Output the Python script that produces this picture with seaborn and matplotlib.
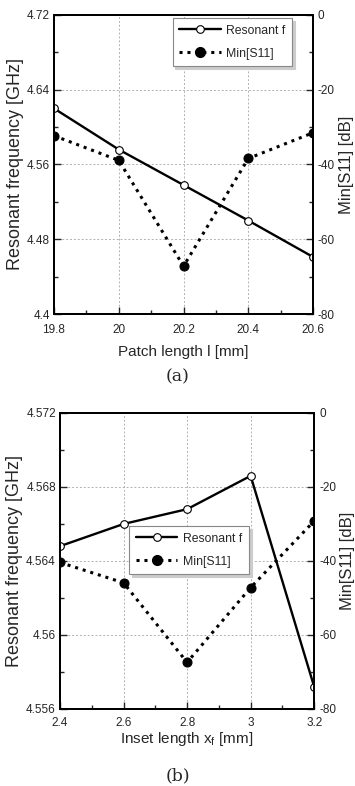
import matplotlib
matplotlib.use("Agg")
import matplotlib.pyplot as plt
from matplotlib.ticker import MultipleLocator, FuncFormatter
from matplotlib.lines import Line2D
import seaborn as sns
import pandas as pd

# ---- data ----
patch_length = [19.8, 20.0, 20.2, 20.4, 20.6]
patch_freq = [4.620, 4.576, 4.538, 4.500, 4.461]
patch_s11 = [-32.3, -38.9, -67.2, -38.4, -31.5]

inset_length = [2.4, 2.6, 2.8, 3.0, 3.2]
inset_freq = [4.5648, 4.5660, 4.5668, 4.5686, 4.5572]
inset_s11 = [-40.4, -45.9, -67.4, -47.2, -29.2]

label_f = "Resonant f"
label_s = "Min[S11]"

sns.set_style("ticks")
plt.rcParams['font.family'] = ['Liberation Sans', 'DejaVu Sans']
plt.rcParams['mathtext.fontset'] = 'custom'
plt.rcParams['mathtext.rm'] = 'Liberation Sans'

fig = plt.figure(figsize=(3.55, 7.86), dpi=100)


def gfmt(v, pos):
    return '%g' % round(v, 6)


def make_panel(rect, xs, fs, ss, xlim, xmaj, ylim, ymaj, xlabel, letter, letter_y,
               xlabel_y, leg_loc, xpad):
    ax = fig.add_axes(rect)
    ax2 = ax.twinx()
    df = pd.DataFrame({"x": xs, "f": fs, "s": ss})
    sns.lineplot(data=df, x="x", y="f", ax=ax, color="black", lw=1.7,
                 marker="o", markersize=5.5, markerfacecolor="white",
                 markeredgecolor="black", markeredgewidth=0.8, legend=False)
    sns.lineplot(data=df, x="x", y="s", ax=ax2, color="black", lw=2.2,
                 linestyle=(0, (1, 1.6)), marker="o", markersize=6.5,
                 markerfacecolor="black", markeredgecolor="black", legend=False)
    ax.set_xlim(*xlim)
    ax.set_ylim(*ylim)
    ax2.set_ylim(-80, 0)
    ax.xaxis.set_major_locator(MultipleLocator(xmaj))
    ax.xaxis.set_minor_locator(MultipleLocator(xmaj / 2))
    ax.yaxis.set_major_locator(MultipleLocator(ymaj))
    ax.yaxis.set_minor_locator(MultipleLocator(ymaj / 2))
    ax2.yaxis.set_major_locator(MultipleLocator(20))
    ax2.yaxis.set_minor_locator(MultipleLocator(10))
    ax.xaxis.set_major_formatter(FuncFormatter(gfmt))
    ax.yaxis.set_major_formatter(FuncFormatter(gfmt))
    ax2.yaxis.set_major_formatter(FuncFormatter(gfmt))
    for a in (ax, ax2):
        a.tick_params(which="both", direction="in", labelsize=8.5, pad=3)
        a.tick_params(which="major", length=5, width=1)
        a.tick_params(which="minor", length=3, width=1)
        for sp in a.spines.values():
            sp.set_linewidth(1.4)
            sp.set_visible(True)
            sp.set_color("black")
    ax.tick_params(axis="x", pad=xpad)
    ax.tick_params(axis="x", top=False, which="both")
    ax2.tick_params(axis="y", pad=3.5)
    ax.grid(True, which="major", color="#b0b0b0", linestyle=(0, (2, 2)), lw=0.7)
    ax.set_axisbelow(True)
    ax.set_xlabel("")
    ax.set_ylabel("Resonant frequency [GHz]", fontsize=13, labelpad=2)
    ax2.set_ylabel("Min[S11] [dB]", fontsize=12, labelpad=3)
    fig.text(rect[0] + rect[2] / 2, xlabel_y, xlabel, ha="center", va="center", fontsize=11)
    fig.text(0.5, letter_y, letter, ha="center", va="center", fontsize=12.5,
             family=["DejaVu Serif"])
    h1 = Line2D([], [], color="black", lw=1.7, marker="o", markersize=5.5,
                markerfacecolor="white", markeredgecolor="black", markeredgewidth=0.8)
    h2 = Line2D([], [], color="black", lw=2.2, linestyle=(0, (1, 1.6)), marker="o",
                markersize=7, markerfacecolor="black")
    leg = ax2.legend([h1, h2], [label_f, label_s], loc="upper left",
                     bbox_to_anchor=leg_loc, frameon=True, fancybox=False,
                     shadow={'color': '#cccccc', 'alpha': 1}, fontsize=8.8, handlelength=3.4,
                     borderpad=0.55, labelspacing=0.9, handletextpad=0.45, borderaxespad=0)
    leg.get_frame().set_edgecolor("#888888")
    leg.get_frame().set_linewidth(0.8)
    return ax, ax2


make_panel([0.152, 0.6005, 0.730, 0.3805], patch_length, patch_freq, patch_s11,
           (19.8, 20.6), 0.2, (4.4, 4.72), 0.08, "Patch length l [mm]", "(a)",
           1 - 377 / 786, 1 - 352 / 786, (0.458, 0.99), 7.5)
make_panel([0.169, 0.098, 0.716, 0.3766], inset_length, inset_freq, inset_s11,
           (2.4, 3.2), 0.2, (4.556, 4.572), 0.004, "Inset length x$_\\mathregular{f}$ [mm]", "(b)",
           1 - 776 / 786, 1 - 739 / 786, (0.272, 0.618), 5.5)

fig.savefig("out.png", dpi=100)
